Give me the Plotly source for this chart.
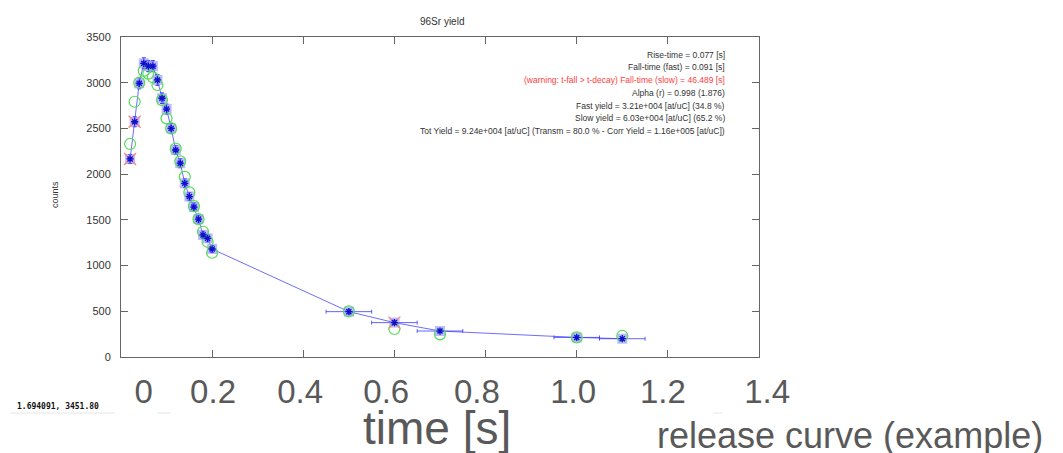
import plotly.graph_objects as go

# ---------------- data ----------------
time_s = [0.02, 0.03, 0.04, 0.05, 0.06, 0.07, 0.08, 0.09, 0.10, 0.11, 0.12, 0.13,
          0.14, 0.15, 0.16, 0.17, 0.18, 0.19, 0.20, 0.50, 0.60, 0.70, 1.00, 1.10]
counts = [2166, 2573, 2993, 3212, 3181, 3181, 3030, 2830, 2712, 2500, 2264, 2120,
          1900, 1755, 1640, 1508, 1335, 1298, 1181, 496, 376, 284, 214, 200]
count_err = [50, 55, 60, 60, 60, 60, 58, 58, 55, 55, 50, 50,
             48, 45, 45, 42, 40, 40, 38, 25, 22, 18, 15, 15]
time_err = [0.005, 0.005, 0.005, 0.005, 0.005, 0.005, 0.005, 0.005, 0.005, 0.005, 0.005, 0.005,
            0.005, 0.005, 0.005, 0.005, 0.005, 0.005, 0.005, 0.05, 0.05, 0.05, 0.05, 0.05]
fit_counts = [2330, 2792, 3000, 3130, 3100, 3060, 2975, 2810, 2610, 2500, 2280, 2140,
              1970, 1800, 1650, 1508, 1370, 1260, 1140, 500, 306, 248, 215, 230]
flag_time = [0.02, 0.03, 0.60]
flag_counts = [2166, 2573, 376]

y_ticks = [0, 500, 1000, 1500, 2000, 2500, 3000, 3500]
release_labels = ["0", "0.2", "0.4", "0.6", "0.8", "1.0", "1.2", "1.4"]
release_label_pos = [0.050, 0.202, 0.393, 0.582, 0.781, 0.992, 1.189, 1.418]

info_lines = [
    "Rise-time = 0.077 [s]",
    "Fall-time (fast) = 0.091 [s]",
    "(warning: t-fall > t-decay) Fall-time (slow) = 46.489 [s]",
    "Alpha (r) = 0.998 (1.876)",
    "Fast yield = 3.21e+004 [at/uC] (34.8 %)",
    "Slow yield = 6.03e+004 [at/uC] (65.2 %)",
    "Tot Yield = 9.24e+004 [at/uC] (Transm = 80.0 % - Corr Yield = 1.16e+005 [at/uC])",
]
info_colors = ["#333333", "#333333", "#ff4040", "#333333", "#333333", "#333333", "#333333"]

# ---------------- geometry ----------------
W, H = 1063, 453
L, R, T, B = 121, 213, 37, 96
paper_w = W - L - R
frame_w = 638
x_max = 1.4
x2_max = x_max * paper_w / frame_w
FONT = "Liberation Sans, Arial, sans-serif"


def px(xp):
    return (xp - L) / paper_w


def py(yp):
    return (H - B - yp) / (H - B - T)


fig = go.Figure()

# connecting line with error bars
fig.add_trace(go.Scatter(
    x=time_s, y=counts, mode="lines",
    line=dict(color="rgba(60,60,255,0.75)", width=1),
    error_y=dict(type="data", array=count_err, color="#2a2aff", thickness=1, width=2),
    error_x=dict(type="data", array=time_err, color="rgba(60,60,255,0.8)", thickness=1, width=2),
    showlegend=False, hoverinfo="skip"))
# light square halos
fig.add_trace(go.Scatter(
    x=time_s, y=counts, mode="markers",
    marker=dict(symbol="square", size=10, color="rgba(130,130,255,0.55)", line=dict(width=0)),
    showlegend=False, hoverinfo="skip"))
# fit values (green circles)
fig.add_trace(go.Scatter(
    x=time_s, y=fit_counts, mode="markers",
    marker=dict(symbol="circle-open", size=11, color="#55dd55", line=dict(width=1.2, color="#55dd55")),
    showlegend=False))
# flagged points (red crosses)
fig.add_trace(go.Scatter(
    x=flag_time, y=flag_counts, mode="markers",
    marker=dict(symbol="x-thin-open", size=12, color="#ff8080", line=dict(width=1.3, color="#ff8080")),
    showlegend=False))
# data stars
fig.add_trace(go.Scatter(
    x=time_s, y=counts, mode="markers",
    marker=dict(symbol="asterisk-open", size=6, color="#1010cc", line=dict(width=1.3, color="#1010cc")),
    showlegend=False))
# carrier for the pasted release-curve time labels
fig.add_trace(go.Scatter(x=[], y=[], xaxis="x2", yaxis="y", showlegend=False))

annotations = []
annotations.append(dict(text="96Sr yield", x=px(442), y=py(14), xref="paper", yref="paper",
                        showarrow=False, font=dict(family=FONT, size=10, color="#333333")))
annotations.append(dict(text="counts", x=px(48), y=py(195), xref="paper", yref="paper",
                        showarrow=False, textangle=-90,
                        font=dict(family=FONT, size=9, color="#333333")))
line_y = [54.5, 67, 80, 92.5, 105.5, 118, 130.5]
for txt, col, yy in zip(info_lines, info_colors, line_y):
    annotations.append(dict(text=txt, x=px(727), y=py(yy), xref="paper", yref="paper",
                            showarrow=False, xanchor="right", yanchor="middle",
                            font=dict(family=FONT, size=8.5, color=col)))
annotations.append(dict(text="time [s]", x=px(437), y=py(428), xref="paper", yref="paper",
                        showarrow=False, yanchor="middle",
                        font=dict(family=FONT, size=46, color="#595959")))
annotations.append(dict(text="release curve (example)", x=px(655), y=py(435),
                        xref="paper", yref="paper", showarrow=False, xanchor="left",
                        yanchor="middle", font=dict(family=FONT, size=36, color="#595959")))
annotations.append(dict(text="<b>1.694091, 3451.80</b>", x=px(15), y=py(406),
                        xref="paper", yref="paper", showarrow=False, xanchor="left",
                        yanchor="middle",
                        font=dict(family="DejaVu Sans Mono, monospace", size=8, color="#111111")))

shapes = []
for x0, x1 in [(10, 115), (157, 171), (713, 722)]:
    shapes.append(dict(type="line", xref="paper", yref="paper",
                       x0=px(x0), x1=px(x1), y0=py(413), y1=py(413),
                       line=dict(color="#e6e6e6", width=1)))

fig.update_layout(
    width=W, height=H,
    margin=dict(l=L, r=R, t=T, b=B, pad=0),
    paper_bgcolor="white", plot_bgcolor="rgba(0,0,0,0)",
    xaxis=dict(domain=[0, frame_w / paper_w], range=[0, x_max], showline=True, mirror="ticks",
               linecolor="#666666", linewidth=1, ticks="inside", ticklen=7, tickcolor="#666666",
               tick0=0, dtick=0.2, showticklabels=False, showgrid=False, zeroline=False),
    xaxis2=dict(domain=[0, 1], range=[0, x2_max], anchor="y", showline=False, ticks="",
                tickvals=release_label_pos, ticktext=release_labels, showgrid=False,
                zeroline=False, ticklabelstandoff=12,
                tickfont=dict(family=FONT, size=33, color="#595959")),
    yaxis=dict(range=[0, 3500], tickvals=y_ticks, showline=True, mirror="ticks",
               linecolor="#666666", linewidth=1, ticks="inside", ticklen=7, tickcolor="#666666",
               showgrid=False, zeroline=False, ticklabelstandoff=7,
               tickfont=dict(family=FONT, size=11, color="#333333")),
    annotations=annotations, shapes=shapes,
)

fig.write_html("out.html", config={"displayModeBar": False},
               post_script="document.body.style.margin='0px';")
